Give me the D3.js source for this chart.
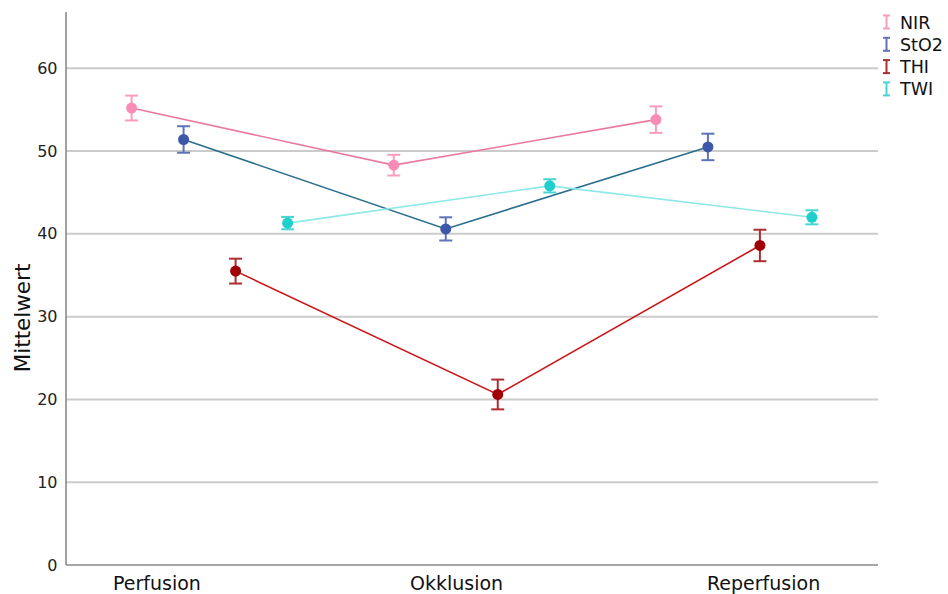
<!DOCTYPE html>
<html>
<head>
<meta charset="utf-8">
<script src="https://cdn.jsdelivr.net/npm/d3@7"></script>
<style>
  html, body { margin: 0; padding: 0; background: #fff; }
  svg { display: block; font-family: "DejaVu Sans", Verdana, sans-serif; }
</style>
</head>
<body>
<svg id="chart" width="948" height="594"></svg>
<script>
// Phases and measured parameters
const phases = ["Perfusion", "Okklusion", "Reperfusion"];
const seriesNames = ["NIR", "StO2", "THI", "TWI"];

// Mean values per phase
const nirMean  = [55.2, 48.3, 53.8];
const sto2Mean = [51.4, 40.6, 50.5];
const thiMean  = [35.5, 20.6, 38.6];
const twiMean  = [41.3, 45.8, 42.0];

// Error bar half-widths per phase
const nirErr  = [1.5, 1.25, 1.6];
const sto2Err = [1.6, 1.4, 1.6];
const thiErr  = [1.5, 1.8, 1.9];
const twiErr  = [0.75, 0.8, 0.85];

const yTicks = [0, 10, 20, 30, 40, 50, 60];

const pointColors = ["#f98cb6", "#3d58a8", "#a00004", "#1fcfcc"];
const lineColors  = ["#e9799f", "#2a6e8c", "#cc1518", "#8ce9e6"];
const errColors   = ["#f99cc0", "#5d74b6", "#ad2e30", "#45d6d3"];

const means = [nirMean, sto2Mean, thiMean, twiMean];
const errs  = [nirErr, sto2Err, thiErr, twiErr];

const series = seriesNames.map((name, i) => ({
  name,
  color: pointColors[i],
  line: lineColors[i],
  err: errColors[i],
  values: phases.map((p, j) => ({ phase: p, mean: means[i][j], e: errs[i][j] }))
}));

const svg = d3.select("#chart");
const plotLeft = 66, plotRight = 878, plotTop = 12, plotBottom = 565;

const y = d3.scaleLinear().domain([0, 66.8]).range([plotBottom, plotTop]);
const x = d3.scaleBand().domain(phases).range([78.5, 865]);
const dodge = d3.scalePoint().domain(seriesNames).range([-78, 78]);
const px = (s, p) => x(p) + x.bandwidth() / 2 + dodge(s);

// Horizontal grid lines
svg.append("g")
  .selectAll("line")
  .data(yTicks.filter(t => t > 0))
  .join("line")
  .attr("x1", plotLeft).attr("x2", plotRight)
  .attr("y1", d => y(d)).attr("y2", d => y(d))
  .attr("stroke", "#cbcbcb").attr("stroke-width", 2);

// Y axis
const yAxis = svg.append("g")
  .attr("transform", `translate(${plotLeft},0)`)
  .call(d3.axisLeft(y).tickValues(yTicks).tickSize(0).tickPadding(8.5));
yAxis.select(".domain").attr("stroke", "#8a8a8a").attr("stroke-width", 1.6)
  .attr("d", `M0,${plotTop}V${plotBottom}`);
yAxis.selectAll("text").attr("font-size", 16).attr("fill", "#222")
  .attr("font-family", "DejaVu Sans, sans-serif");

// X axis line
svg.append("line")
  .attr("x1", plotLeft).attr("x2", plotRight).attr("y1", plotBottom).attr("y2", plotBottom)
  .attr("stroke", "#8a8a8a").attr("stroke-width", 1.6);

// Category labels
const labelX = d3.scalePoint().domain(phases).range([113, 707]);
svg.append("g")
  .selectAll("text")
  .data(phases)
  .join("text")
  .attr("x", d => labelX(d))
  .attr("y", 590)
  .attr("font-size", 19)
  .attr("fill", "#111")
  .text(d => d);

// Y axis title
svg.append("text")
  .attr("transform", `translate(29.5,318) rotate(-90)`)
  .attr("text-anchor", "middle")
  .attr("font-size", 21.5)
  .attr("fill", "#111")
  .text("Mittelwert");

// Connecting lines
const line = d3.line().x(d => d.x).y(d => y(d.mean));
series.forEach(s => {
  svg.append("path")
    .datum(s.values.map(v => ({ x: px(s.name, v.phase), mean: v.mean })))
    .attr("d", line)
    .attr("fill", "none")
    .attr("stroke", s.line)
    .attr("stroke-width", 1.6);
});

// Error bars and points
const cap = 6.5;
series.forEach(s => {
  const g = svg.append("g");
  s.values.forEach(v => {
    const cx = px(s.name, v.phase);
    const y1 = y(v.mean + v.e), y2 = y(v.mean - v.e);
    g.append("line").attr("x1", cx).attr("x2", cx).attr("y1", y1).attr("y2", y2)
      .attr("stroke", s.err).attr("stroke-width", 2);
    [y1, y2].forEach(yy => g.append("line")
      .attr("x1", cx - cap).attr("x2", cx + cap).attr("y1", yy).attr("y2", yy)
      .attr("stroke", s.err).attr("stroke-width", 2));
    g.append("circle").attr("cx", cx).attr("cy", y(v.mean)).attr("r", 5.5)
      .attr("fill", s.color);
  });
});

// Legend
const legend = svg.append("g");
series.forEach((s, i) => {
  const ly = 22 + i * 22.3;
  const lx = 886.5;
  legend.append("line").attr("x1", lx).attr("x2", lx).attr("y1", ly - 6.5).attr("y2", ly + 6.5)
    .attr("stroke", s.err).attr("stroke-width", 2);
  [ly - 6.5, ly + 6.5].forEach(yy => legend.append("line")
    .attr("x1", lx - 3.5).attr("x2", lx + 3.5).attr("y1", yy).attr("y2", yy)
    .attr("stroke", s.err).attr("stroke-width", 2));
  legend.append("text").attr("x", 900).attr("y", ly + 6.5)
    .attr("font-size", 17.5).attr("fill", "#111").text(s.name);
});
</script>
</body>
</html>
